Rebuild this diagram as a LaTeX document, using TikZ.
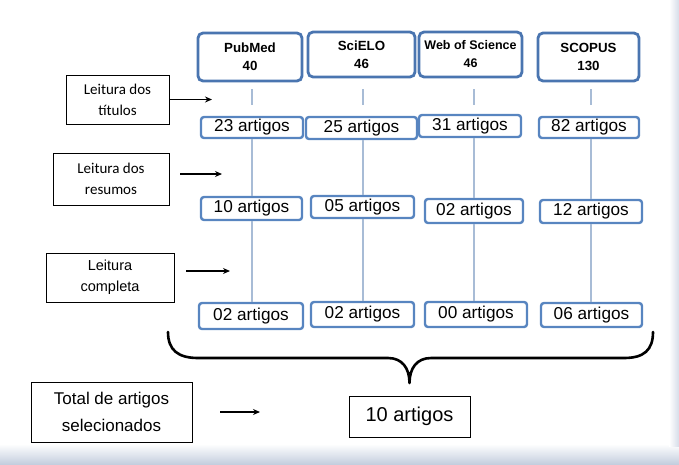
\documentclass[tikz,border=0pt]{standalone}
\usepackage{fontspec}
\setmainfont{Liberation Sans}
\newfontfamily\calib{Carlito}
\usetikzlibrary{arrows.meta}
\definecolor{topblue}{RGB}{74,117,176}
\definecolor{rowblue}{RGB}{88,133,192}
\definecolor{connblue}{RGB}{168,188,214}
\definecolor{bandgray}{RGB}{196,206,222}
\definecolor{edgegray}{RGB}{214,220,232}
\begin{document}
\begin{tikzpicture}[x=1pt,y=-1pt,
  srcbox/.style={draw=topblue, line width=2.8pt, rounded corners=5pt, fill=white, inner sep=0pt, align=center, font=\fontsize{13.3}{18}\selectfont\bfseries},
  artbox/.style={draw=rowblue, line width=2.4pt, rounded corners=3pt, fill=white, inner sep=0pt, font=\fontsize{17.2}{19}\selectfont},
  lblbox/.style={draw=black, line width=0.9pt, inner sep=0pt, align=center},
  conn/.style={draw=connblue, line width=2pt},
  arr/.style={draw=black, line width=1.1pt, -{Stealth[length=7pt,width=6pt]}},
  bracestyle/.style={draw=black, line width=2.6pt, line cap=round, line join=round}
]
\useasboundingbox (0,0) rectangle (679,464);
\shade[top color=white, bottom color=bandgray] (0,444) rectangle (679,464);
\shade[left color=white, right color=edgegray] (669,0) rectangle (679,446);

% source boxes
\node[srcbox, minimum width=104, minimum height=48] (pub) at (250,57) {PubMed\\40};
\node[srcbox, minimum width=107, minimum height=45] (sci) at (361.5,54.5) {SciELO\\46};
\node[srcbox, minimum width=103, minimum height=45, font=\fontsize{12.5}{18}\selectfont\bfseries] (wos) at (470.5,54.5) {Web of Science\\46};
\node[srcbox, minimum width=101, minimum height=48] (sco) at (588.5,57) {SCOPUS\\130};

% row 1
\node[artbox, minimum width=102, minimum height=21] (r1a) at (252,127.5) {23 artigos};
\node[artbox, minimum width=111, minimum height=22] (r1b) at (361.5,128) {25 artigos};
\node[artbox, minimum width=102, minimum height=22] (r1c) at (470,126) {31 artigos};
\node[artbox, minimum width=100, minimum height=21] (r1d) at (589,127.5) {82 artigos};

% row 2
\node[artbox, minimum width=101, minimum height=23] (r2a) at (251.5,208.5) {10 artigos};
\node[artbox, minimum width=103, minimum height=22] (r2b) at (362.5,207) {05 artigos};
\node[artbox, minimum width=98, minimum height=24] (r2c) at (474,211) {02 artigos};
\node[artbox, minimum width=102, minimum height=23] (r2d) at (591,211.5) {12 artigos};

% row 3
\node[artbox, minimum width=104, minimum height=26] (r3a) at (251,316) {02 artigos};
\node[artbox, minimum width=103, minimum height=25] (r3b) at (362.5,314.5) {02 artigos};
\node[artbox, minimum width=102, minimum height=25] (r3c) at (476,314.5) {00 artigos};
\node[artbox, minimum width=101, minimum height=24] (r3d) at (591.5,315) {06 artigos};

% connectors source -> row1 (short, detached)
\draw[conn, shorten <=7pt, shorten >=11pt] (pub.south -| r2a) -- (r1a.north -| r2a);
\draw[conn, shorten <=11pt, shorten >=11pt] (sci.south -| r2b) -- (r1b.north -| r2b);
\draw[conn, shorten <=11pt, shorten >=9pt] (wos.south -| r2c) -- (r1c.north -| r2c);
\draw[conn, shorten <=7pt, shorten >=11pt] (sco.south -| r2d) -- (r1d.north -| r2d);

% row1 -> row2
\draw[conn] (r1a.south -| r2a) -- (r2a.north);
\draw[conn] (r1b.south -| r2b) -- (r2b.north);
\draw[conn] (r1c.south -| r2c) -- (r2c.north);
\draw[conn] (r1d.south -| r2d) -- (r2d.north);

% row2 -> row3
\draw[conn] (r2a.south) -- (r3a.north -| r2a);
\draw[conn] (r2b.south) -- (r3b.north -| r2b);
\draw[conn] (r2c.south) -- (r3c.north -| r2c);
\draw[conn] (r2d.south) -- (r3d.north -| r2d);

% left labels
\node[lblbox, minimum width=103, minimum height=49, font=\calib\fontsize{15}{21}\selectfont] (tit) at (117.5,99.5) {Leitura dos\\títulos};
\node[lblbox, minimum width=116, minimum height=52, font=\calib\fontsize{15}{21}\selectfont] (res) at (111,179) {Leitura dos\\resumos};
\node[lblbox, minimum width=128, minimum height=49, font=\fontsize{14.5}{21}\selectfont] (com) at (110,277.5) {Leitura\\completa};
\node[lblbox, minimum width=161, minimum height=60, font=\fontsize{17}{27}\selectfont] (tot) at (111.5,412) {Total de artigos\\selecionados};

% final box
\node[lblbox, minimum width=121, minimum height=41, font=\fontsize{20}{24}\selectfont] (fin) at (409.5,416.5) {10 artigos};

% arrows
\coordinate (ta) at (212,99.5);
\coordinate (rs) at (180,174);
\coordinate (ra) at (222,174);
\coordinate (cs) at (186,271);
\coordinate (ca) at (230,271);
\coordinate (ts) at (220,412);
\coordinate (tae) at (260,412);
\draw[arr] (tit.east) -- (ta);
\draw[arr] (rs) -- (ra);
\draw[arr] (cs) -- (ca);
\draw[arr] (ts) -- (tae);

% brace
\draw[bracestyle] (168,332) .. controls (168,350) and (178,358) .. (198,358) -- (388,358)
  .. controls (402,358) and (409.5,368) .. (409.5,383)
  .. controls (409.5,368) and (417,358) .. (431,358) -- (624,358)
  .. controls (644,358) and (653,350) .. (653,332);
\end{tikzpicture}
\end{document}
